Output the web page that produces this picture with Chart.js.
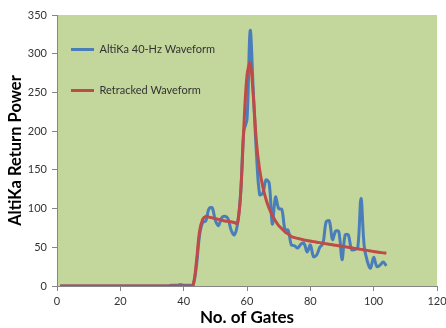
<!DOCTYPE html>
<html>
<head>
<meta charset="utf-8">
<script src="https://cdn.jsdelivr.net/npm/chart.js@4/dist/chart.umd.min.js"></script>
<style>
  html, body { margin: 0; padding: 0; background: #ffffff; }
  #wrap { width: 446px; height: 328px; }
</style>
</head>
<body>
<div id="wrap"><canvas id="chart" width="446" height="328"></canvas></div>
<script>
// gate numbers run 1..104, one value per gate
var seriesNames = ["AltiKa 40-Hz Waveform", "Retracked Waveform"];

var altikaPower = [
    0, 0, 0, 0, 0, 0, 0, 0, 0, 0,
    0, 0, 0, 0, 0, 0, 0, 0, 0, 0,
    0, 0, 0, 0, 0, 0, 0, 0, 0, 0,
    0, 0, 0, 0, 0, 1, 1, 1, 2, 1,
    1, 1, 2, 25, 65, 82, 84, 100, 101, 85,
    78, 88, 90, 87, 72, 66, 80, 120, 200, 215,
    330, 250, 170, 118, 120, 137, 133, 80, 115, 100,
    99, 73, 72, 53, 52, 49, 54, 55, 44, 53,
    38, 40, 50, 55, 83, 84, 60, 71, 70, 34,
    66, 66, 47, 47, 50, 113, 52, 32, 23, 37,
    25, 27, 31, 26
];

var retrackedPower = [
    0, 0, 0, 0, 0, 0, 0, 0, 0, 0,
    0, 0, 0, 0, 0, 0, 0, 0, 0, 0,
    0, 0, 0, 0, 0, 0, 0, 0, 0, 0,
    0, 0, 0, 0, 0, 0, 0, 0, 0, 0,
    0, 0, 1, 30, 70, 86, 90, 89, 88, 87,
    86, 85, 84, 83.5, 83, 82, 81, 120, 205, 272,
    288, 245, 185, 150, 128, 112, 100, 91, 84, 78,
    74, 70, 67, 64, 62.5, 61.5, 60.5, 59.5, 58.8, 58,
    57.3, 56.6, 56, 55.3, 54.6, 54, 53.3, 52.6, 52, 51.3,
    50.6, 50, 49.3, 48.6, 48, 47.3, 46.6, 46, 45.3, 44.6,
    44, 43.4, 42.8, 42.2
];

var xTicks = { min: 0, max: 120, step: 20 };
var yTicks = { min: 0, max: 350, step: 50 };

function toPoints (values) {
    return values.map(function (v, i) {
        return { x: i + 1, y: v };
    });
}

var plotBackground = {
    id: "plotBackground",
    beforeDraw: function (chart) {
        let area = chart.chartArea;
        let ctx = chart.ctx;
        ctx.save();
        ctx.fillStyle = "#c3d69b";
        ctx.fillRect(area.left, area.top, area.right - area.left, area.bottom - area.top);
        ctx.restore();
    }
};

// nudge the in-plot legend to where Excel put it
var legendNudge = {
    id: "legendNudge",
    afterLayout: function (chart) {
        chart.legend.left -= 16;
        chart.legend.top += 14;
    }
};

var canv = document.getElementById("chart").getContext("2d");
var chart = new Chart(canv, {
    type: "line",
    data: {
        datasets: [
            {
                label: seriesNames[0],
                data: toPoints(altikaPower),
                borderColor: "#4a7ebb",
                backgroundColor: "#4a7ebb",
                borderWidth: 3,
                pointRadius: 0,
                tension: 0.35,
                fill: false,
                order: 1
            },
            {
                label: seriesNames[1],
                data: toPoints(retrackedPower),
                borderColor: "#be4b48",
                backgroundColor: "#be4b48",
                borderWidth: 3,
                pointRadius: 0,
                tension: 0.35,
                fill: false,
                order: 0
            }
        ]
    },
    options: {
        responsive: false,
        animation: false,
        layout: { padding: { top: 15, right: 9, left: 6, bottom: 0 } },
        plugins: {
            tooltip: { enabled: false },
            legend: {
                position: "chartArea",
                align: "start",
                labels: {
                    usePointStyle: true,
                    pointStyle: "line",
                    pointStyleWidth: 23,
                    boxHeight: 11,
                    padding: 30,
                    color: "#333333",
                    font: { family: "Lato", size: 11 },
                    sort: function (a, b) {
                        return a.datasetIndex - b.datasetIndex;
                    }
                }
            }
        },
        scales: {
            x: {
                type: "linear",
                min: xTicks.min,
                max: xTicks.max,
                border: { color: "#868686", width: 1 },
                grid: { display: true, drawOnChartArea: false, tickLength: 5, color: "#868686" },
                ticks: {
                    stepSize: xTicks.step,
                    padding: 4,
                    maxRotation: 0,
                    color: "#333333",
                    font: { family: "Lato", size: 11 }
                },
                title: {
                    display: true,
                    text: "No. of Gates",
                    color: "#000000",
                    padding: { top: 5, bottom: 0 },
                    font: { family: "Lato", size: 17, weight: "bold" }
                },
                afterFit: function (scale) {
                    scale.height = 42;
                    scale.paddingRight = 0;
                    scale.paddingLeft = 0;
                }
            },
            y: {
                min: yTicks.min,
                max: yTicks.max,
                border: { color: "#868686", width: 1 },
                grid: { display: true, drawOnChartArea: false, tickLength: 5, color: "#868686" },
                ticks: {
                    stepSize: yTicks.step,
                    padding: 5,
                    color: "#333333",
                    font: { family: "Lato", size: 11 }
                },
                title: {
                    display: true,
                    text: "AltiKa Return Power",
                    color: "#000000",
                    padding: { top: 0, bottom: 2 },
                    font: { family: "Lato", size: 16.5, weight: "bold" }
                },
                afterFit: function (scale) {
                    scale.width = 51;
                }
            }
        }
    },
    plugins: [plotBackground, legendNudge]
});
</script>
</body>
</html>
